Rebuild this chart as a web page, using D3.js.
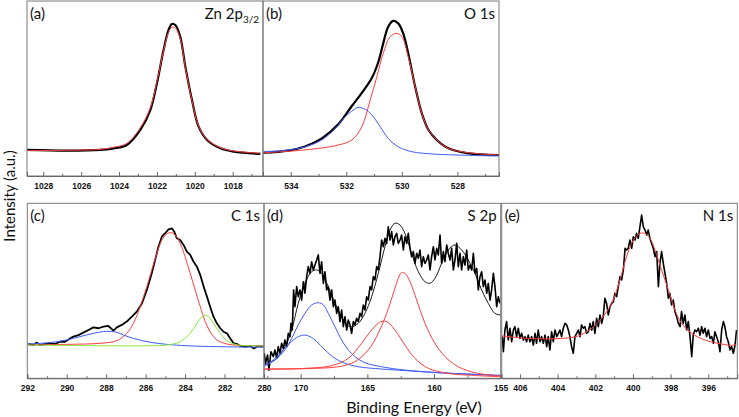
<!DOCTYPE html>
<html><head><meta charset="utf-8">
<script src="https://cdn.jsdelivr.net/npm/d3@7"></script>
<style>html,body{margin:0;padding:0;background:#fff}svg{display:block}</style>
</head><body><svg id="chart" width="739" height="417"></svg>
<script>
// ---------------- DATA (binding energy eV, intensity a.u.) ----------------
const znRaw = [[1028.88,14.9],[1026.76,14.5],[1025.0,14.9],[1024.3,15.8],[1023.59,17.7],[1022.88,26.3],[1022.35,37.7],[1022.0,53.0],[1021.65,72.0],[1021.39,83.4],[1021.21,86.9],[1021.03,86.3],[1020.77,79.6],[1020.5,62.5],[1020.15,43.4],[1019.8,28.2],[1019.35,20.6],[1018.65,15.8],[1017.95,13.9],[1016.54,12.6]];
const znFit = [[1028.88,14.5],[1026.76,14.7],[1025.0,15.2],[1024.3,16.4],[1023.59,18.6],[1022.88,27.5],[1022.35,39.0],[1022.0,54.0],[1021.65,71.5],[1021.39,82.0],[1021.21,85.0],[1021.03,84.6],[1020.77,78.5],[1020.5,62.0],[1020.15,43.0],[1019.8,28.5],[1019.35,20.8],[1018.65,16.2],[1017.95,14.3],[1016.54,13.0]];

const oRaw = [[534.99,13.3],[534.09,14.5],[533.49,16.9],[532.88,21.5],[532.29,29.5],[531.80,40.0],[531.44,47.5],[531.08,56.0],[530.85,65.0],[530.67,75.8],[530.49,85.3],[530.31,88.6],[530.13,87.2],[529.95,81.5],[529.77,70.1],[529.52,51.0],[529.28,35.8],[529.04,26.3],[528.74,20.6],[528.32,15.8],[527.60,12.9],[526.46,12.0]];
const oFitMain = [[534.99,13.3],[533.49,14.9],[532.29,17.7],[531.80,20.6],[531.44,28.2],[531.14,43.4],[530.90,56.7],[530.67,70.1],[530.42,79.6],[530.18,81.5],[530.0,79.6],[529.77,68.2],[529.52,51.0],[529.28,35.8],[529.04,26.3],[528.74,20.6],[528.32,15.8],[527.60,13.3],[526.46,12.0]];
const oFitSecond = [[534.99,13.9],[534.09,14.9],[533.49,16.7],[532.88,20.6],[532.40,27.2],[532.04,33.9],[531.74,37.7],[531.57,39.2],[531.32,38.1],[531.08,34.9],[530.78,28.2],[530.49,21.5],[530.13,16.7],[529.64,13.9],[528.92,12.6],[527.60,11.8],[526.46,11.4]];

const cRaw = [[291.95,19.6],[291.69,19.0],[291.52,20.4],[291.36,19.0],[291.10,19.6],[290.85,20.0],[290.59,19.6],[290.34,20.9],[290.09,20.9],[289.83,22.8],[289.66,23.8],[289.41,24.7],[289.16,26.1],[288.90,27.6],[288.65,29.1],[288.39,28.6],[288.14,29.5],[287.89,29.9],[287.63,27.2],[287.46,29.1],[287.21,30.5],[286.96,32.4],[286.70,35.2],[286.45,38.1],[286.19,42.8],[285.94,50.5],[285.69,60.0],[285.52,67.6],[285.35,75.2],[285.18,80.9],[285.01,82.9],[284.84,85.1],[284.67,85.7],[284.55,83.8],[284.42,80.0],[284.25,79.0],[284.08,76.2],[283.91,72.4],[283.74,70.5],[283.57,66.6],[283.40,63.8],[283.23,59.0],[283.06,52.4],[282.89,46.6],[282.73,40.9],[282.56,35.2],[282.39,31.4],[282.22,28.6],[282.05,26.6],[281.88,25.7],[281.71,22.8],[281.54,20.0],[281.37,19.6],[281.20,18.5],[280.95,18.1],[280.69,18.5],[280.53,17.1],[280.27,18.5],[280.02,18.1]];
const cFitMain = [[291.95,19.0],[290.0,19.4],[288.31,20.0],[287.46,21.5],[286.96,25.7],[286.62,31.4],[286.28,40.9],[285.94,52.4],[285.69,61.9],[285.43,71.4],[285.18,79.0],[284.93,82.5],[284.72,83.2],[284.50,81.9],[284.25,77.1],[284.0,69.5],[283.74,60.0],[283.49,50.5],[283.23,40.9],[282.98,32.4],[282.73,26.6],[282.39,21.9],[281.88,19.6],[281.20,18.8],[280.02,18.5]];
const cFitHigh = [[291.95,19.6],[290.85,20.4],[290.0,21.9],[289.33,23.8],[288.65,25.7],[288.14,26.7],[287.80,26.8],[287.46,26.3],[287.12,24.7],[286.62,22.8],[285.77,20.6],[284.93,19.4],[283.91,18.6],[282.39,18.1],[280.02,17.7]];
const cFitLow = [[291.95,19.0],[288.31,18.6],[285.77,18.6],[284.93,19.0],[284.25,20.9],[283.74,25.7],[283.40,31.4],[283.15,35.2],[282.98,36.0],[282.81,35.2],[282.56,31.4],[282.22,25.7],[281.88,21.5],[281.37,19.2],[280.02,18.5]];

const sEnergy = [172.73,172.63,172.48,172.38,172.23,172.05,171.93,171.80,171.68,171.55,171.43,171.30,171.18,171.05,170.93,170.80,170.73,170.63,170.53,170.43,170.30,170.18,170.05,169.93,169.80,169.68,169.55,169.43,169.30,169.18,169.05,168.93,168.80,168.68,168.55,168.43,168.30,168.18,168.05,167.93,167.80,167.68,167.55,167.43,167.30,167.18,167.05,166.93,166.80,166.68,166.55,166.43,166.30,166.18,166.05,165.93,165.80,165.68,165.55,165.43,165.30,165.18,165.05,164.93,164.80,164.68,164.55,164.43,164.30,164.18,164.05,163.93,163.80,163.68,163.55,163.43,163.30,163.18,163.05,162.93,162.80,162.68,162.55,162.43,162.30,162.18,162.05,161.93,161.80,161.68,161.55,161.43,161.30,161.18,161.05,160.93,160.80,160.68,160.55,160.43,160.30,160.18,160.05,159.93,159.80,159.68,159.55,159.43,159.30,159.18,159.05,158.93,158.80,158.68,158.55,158.43,158.30,158.18,158.05,157.93,157.80,157.68,157.55,157.43,157.30,157.18,157.05,156.93,156.80,156.68,156.55,156.43,156.30,156.18,156.05,155.93,155.80,155.68,155.55,155.43,155.30,155.18,155.05];
const sRawVal = [14.3,8.6,13.3,4.7,15.2,12.4,16.2,11.4,18.1,14.3,20.0,17.1,21.9,18.1,25.7,23.8,31.4,27.6,50.5,40.9,52.4,46.6,50.5,44.7,55.2,48.6,58.1,63.8,60.0,66.6,61.9,64.7,67.6,70.5,60.0,66.6,54.3,60.9,50.5,52.4,44.7,50.5,40.9,44.7,37.1,40.9,32.4,39.0,29.5,35.2,27.6,33.3,30.5,25.7,32.4,30.5,34.3,32.4,37.1,35.2,41.9,39.0,46.6,44.7,52.4,50.5,58.1,56.2,63.8,61.9,69.5,79.0,75.2,80.0,77.1,86.6,79.0,83.8,76.2,80.9,82.8,77.1,79.0,81.9,73.3,80.9,77.1,82.8,74.3,69.5,72.4,65.7,71.4,68.6,73.3,63.8,69.5,65.7,67.6,70.5,61.9,69.5,75.2,67.6,74.3,70.5,81.9,65.7,72.4,66.6,76.2,71.4,67.6,74.3,61.9,67.6,77.1,63.8,71.4,61.9,69.5,64.7,73.3,61.9,64.7,61.9,71.4,60.0,62.8,50.5,58.1,60.9,52.4,56.2,48.6,54.3,44.7,50.5,60.0,52.4,40.9,46.6,42.8];
const sEnvelope = [[172.73,7.6],[171.93,10.5],[171.18,18.1],[170.68,27.6],[170.18,42.8],[169.68,54.3],[169.18,60.9],[168.80,61.9],[168.43,60.0],[167.93,52.4],[167.43,42.8],[166.93,35.2],[166.55,30.5],[166.18,29.5],[165.68,31.4],[165.18,37.1],[164.68,46.6],[164.18,60.0],[163.68,75.2],[163.30,84.7],[162.93,88.6],[162.55,87.6],[162.18,82.8],[161.68,71.4],[161.18,60.9],[160.68,55.2],[160.30,54.3],[159.93,57.1],[159.43,65.7],[158.93,73.3],[158.43,76.2],[157.93,73.3],[157.43,67.6],[156.93,60.0],[156.43,50.5],[155.93,42.8],[155.43,37.1],[155.00,36.2]];
const sSulfateA = [[172.73,7.6],[171.93,10.5],[171.18,16.2],[170.68,22.8],[170.18,30.5],[169.68,37.1],[169.18,41.9],[168.68,43.2],[168.30,41.9],[167.93,37.1],[167.43,29.5],[166.93,21.9],[166.43,16.2],[165.93,12.4],[165.18,8.9],[163.93,6.6],[162.18,4.7],[159.68,3.2],[157.18,2.3],[155.00,1.5]];
const sSulfateB = [[172.73,6.6],[171.93,11.4],[171.18,17.1],[170.68,21.0],[170.18,23.8],[169.68,24.7],[169.30,23.8],[168.80,21.0],[168.18,16.2],[167.43,11.4],[166.68,8.6],[165.68,6.6],[163.93,5.3],[162.18,4.4],[159.68,3.2],[155.00,1.7]];
const sSulfideA = [[172.73,5.3],[170.93,5.3],[168.93,5.7],[167.18,6.6],[165.93,9.5],[164.93,16.2],[164.18,25.7],[163.55,37.1],[163.05,48.6],[162.68,57.1],[162.43,60.4],[162.18,60.0],[161.80,55.2],[161.30,44.7],[160.68,31.4],[159.93,20.0],[159.18,12.4],[158.18,6.6],[156.93,3.2],[155.00,1.3]];
const sSulfideB = [[172.73,5.3],[169.68,5.7],[167.68,7.2],[166.43,11.4],[165.43,20.0],[164.68,27.6],[164.18,31.4],[163.80,32.7],[163.43,31.8],[162.93,27.6],[162.18,19.0],[161.43,11.4],[160.43,5.7],[158.93,2.8],[157.18,1.7],[155.00,0.9]];

const nEnergy = [406.94,406.88,406.80,406.71,406.62,406.53,406.44,406.35,406.27,406.18,406.09,406.00,405.91,405.82,405.73,405.65,405.56,405.47,405.38,405.29,405.20,405.12,405.03,404.94,404.85,404.76,404.67,404.58,404.50,404.41,404.32,404.23,404.14,404.05,403.96,403.88,403.79,403.70,403.61,403.52,403.43,403.35,403.26,403.17,403.08,402.99,402.90,402.81,402.73,402.64,402.55,402.46,402.37,402.28,402.19,402.11,402.02,401.93,401.84,401.75,401.66,401.58,401.49,401.40,401.31,401.22,401.13,401.04,400.96,400.87,400.78,400.69,400.60,400.51,400.42,400.34,400.25,400.16,400.07,399.98,399.89,399.81,399.72,399.63,399.54,399.45,399.36,399.27,399.19,399.10,399.01,398.92,398.83,398.74,398.65,398.57,398.48,398.39,398.30,398.21,398.12,398.04,397.95,397.86,397.77,397.68,397.59,397.50,397.42,397.33,397.24,397.15,397.06,396.97,396.88,396.80,396.71,396.62,396.53,396.44,396.35,396.27,396.18,396.09,396.00,395.91,395.82,395.73,395.65,395.56,395.47,395.38,395.29,395.20,395.12,395.03,394.94,394.85,394.76,394.67,394.58,394.50];
const nRawVal = [23.8,15.2,27.6,32.4,21.9,28.6,20.9,27.6,29.5,23.8,28.6,22.8,25.7,21.9,23.8,20.9,24.7,20.9,23.8,19.0,25.7,20.0,27.6,20.9,23.8,20.0,24.7,18.1,23.8,16.2,26.6,20.9,27.6,23.8,25.7,27.6,23.8,28.6,31.4,30.5,27.6,23.8,18.1,14.3,23.8,25.7,27.6,23.8,30.5,28.6,29.5,25.7,26.6,31.4,27.6,32.4,25.7,34.3,29.5,36.2,31.4,35.2,45.7,42.8,36.2,40.9,42.8,43.8,48.6,46.6,52.4,58.1,56.2,61.9,74.3,73.3,74.3,79.0,74.3,80.9,79.0,82.8,80.0,86.6,93.3,86.6,84.7,81.9,84.7,80.0,77.1,74.3,69.5,72.4,52.4,65.7,72.4,65.7,60.0,54.3,45.7,48.6,41.9,44.7,38.1,35.2,31.4,29.5,38.1,31.4,36.2,27.6,32.4,23.8,12.4,24.7,27.6,26.6,28.6,24.7,29.5,25.7,28.6,23.8,27.6,22.8,23.8,20.0,26.6,23.8,20.9,15.2,27.6,32.4,29.5,23.8,20.9,16.2,18.1,14.3,19.0,27.6];
const nFit = [[406.94,24.2],[405.56,22.8],[403.79,22.8],[402.90,24.2],[402.19,28.6],[401.66,34.3],[401.13,42.8],[400.69,56.2],[400.34,69.5],[399.98,79.0],[399.63,82.8],[399.36,82.8],[399.10,80.0],[398.83,73.3],[398.48,61.9],[398.12,50.5],[397.77,39.0],[397.42,31.4],[396.88,25.7],[396.18,21.9],[395.29,19.6],[394.76,18.8],[394.50,19.6]];

// tick labels
const aTicks = [1028,1026,1024,1022,1020,1018];
const bTicks = [534,532,530,528];
const cTicks = [292,290,288,286,284,282,280];
const dTicks = [170,165,160,155];
const eTicks = [406,404,402,400,398,396];
const aMinor = [1027,1025,1023,1021,1019,1017];
const bMinor = [535,533,531,529,527];
const cMinor = [291,289,287,285,283,281];
const dMinor = [172.5,167.5,162.5,157.5];
const eMinor = [405,403,401,399,397,395];

// ---------------- DRAW ----------------
const svg = d3.select('#chart');
const RED = '#ff3c3c', BLUE = '#3c5cff', GREEN = '#86e83c';
const zipXY = (xs, ys) => xs.map((x, i) => [x, ys[i]]);

const panels = [
  {id:'a', x0:27, x1:263, y0:1, y1:176, dom:[1028.86,1016.4], ticks:aTicks, minor:aMinor, label:'(a)', title:['Zn 2p','3/2'],
   series:[{d:znRaw, c:'#000', w:2.2, smooth:true},{d:znFit, c:RED, w:1, smooth:true}]},
  {id:'b', x0:263, x1:499, y0:1, y1:176, dom:[535.0,526.5], ticks:bTicks, minor:bMinor, label:'(b)', title:['O 1s'],
   series:[{d:oRaw, c:'#000', w:2.2, smooth:true},{d:oFitMain, c:RED, w:1, smooth:true},{d:oFitSecond, c:BLUE, w:1, smooth:true}]},
  {id:'c', x0:27.3, x1:264, y0:203.3, y1:378.3, dom:[292,280], ticks:cTicks, minor:cMinor, label:'(c)', title:['C 1s'],
   series:[{d:cRaw, c:'#000', w:1.8},{d:cFitMain, c:RED, w:1, smooth:true},{d:cFitHigh, c:BLUE, w:1, smooth:true},{d:cFitLow, c:GREEN, w:1, smooth:true}]},
  {id:'d', x0:264, x1:500.7, y0:203.3, y1:378.3, dom:[172.75,155], ticks:dTicks, minor:dMinor, label:'(d)', title:['S 2p'],
   series:[{d:zipXY(sEnergy,sRawVal), c:'#000', w:1.6},{d:sEnvelope, c:'#000', w:0.9, smooth:true},
           {d:sSulfateA, c:BLUE, w:1, smooth:true},{d:sSulfateB, c:BLUE, w:1, smooth:true},
           {d:sSulfideA, c:RED, w:1, smooth:true},{d:sSulfideB, c:RED, w:1, smooth:true}]},
  {id:'e', x0:501.7, x1:737.3, y0:203.3, y1:378.3, dom:[406.97,394.46], ticks:eTicks, minor:eMinor, label:'(e)', title:['N 1s'],
   series:[{d:zipXY(nEnergy,nRawVal), c:'#000', w:1.6},{d:nFit, c:RED, w:1, smooth:true}]}
];

const defs = svg.append('defs');
panels.forEach(p => {
  const x = d3.scaleLinear().domain(p.dom).range([p.x0, p.x1]);
  const y = d3.scaleLinear().domain([0, 100]).range([p.y1, p.y0]);
  defs.append('clipPath').attr('id', 'clip-' + p.id)
    .append('rect').attr('x', p.x0).attr('y', p.y0).attr('width', p.x1 - p.x0).attr('height', p.y1 - p.y0);
  const g = svg.append('g');
  const plot = g.append('g').attr('clip-path', `url(#clip-${p.id})`);
  p.series.forEach(s => {
    const line = d3.line().x(d => x(d[0])).y(d => y(d[1]))
      .curve(s.smooth ? d3.curveCatmullRom.alpha(0.5) : d3.curveLinear);
    plot.append('path').attr('d', line(s.d)).attr('fill', 'none')
      .attr('stroke', s.c).attr('stroke-width', s.w).attr('stroke-linejoin', 'round');
  });
  // frame
  g.append('rect').attr('x', p.x0).attr('y', p.y0).attr('width', p.x1 - p.x0).attr('height', p.y1 - p.y0)
    .attr('fill', 'none').attr('stroke', '#7a7a7a').attr('stroke-width', 1);
  // axes
  const ax = g.append('g').attr('transform', `translate(0,${p.y1})`)
    .call(d3.axisBottom(x).tickValues(p.ticks).tickSize(-4).tickPadding(6.5).tickFormat(d3.format('d')));
  ax.select('.domain').attr('stroke', '#666');
  ax.selectAll('.tick line').attr('stroke', '#666');
  ax.selectAll('text').attr('font-family', '"Liberation Sans", Arial, sans-serif')
    .attr('font-weight', 'bold').attr('font-size', 8.5).attr('fill', '#111');
  const mx = g.append('g').attr('transform', `translate(0,${p.y1})`)
    .call(d3.axisBottom(x).tickValues(p.minor).tickSize(-2).tickFormat(''));
  mx.select('.domain').remove();
  mx.selectAll('.tick line').attr('stroke', '#666');
  // labels
  const ly = p.y0 + 17.5;
  g.append('text').attr('x', p.x0 + 3).attr('y', ly).text(p.label)
    .attr('font-family', 'Lato, "Open Sans", sans-serif').attr('font-size', 15).attr('fill', '#111');
  const t = g.append('text').attr('x', p.x1 - 4).attr('y', ly).attr('text-anchor', 'end')
    .attr('font-family', 'Lato, "Open Sans", sans-serif').attr('font-size', 15).attr('fill', '#111');
  t.append('tspan').text(p.title[0]);
  if (p.title[1]) t.append('tspan').attr('font-size', 10).attr('dy', 4).text(p.title[1]);
});

svg.append('text').attr('transform', 'translate(15,196) rotate(-90)').attr('text-anchor', 'middle')
  .attr('font-family', 'Lato, "Open Sans", sans-serif').attr('font-size', 15).attr('fill', '#111')
  .text('Intensity (a.u.)');
svg.append('text').attr('x', 414).attr('y', 413).attr('text-anchor', 'middle')
  .attr('font-family', 'Lato, "Open Sans", sans-serif').attr('font-size', 16).attr('fill', '#111')
  .text('Binding Energy (eV)');
</script></body></html>
